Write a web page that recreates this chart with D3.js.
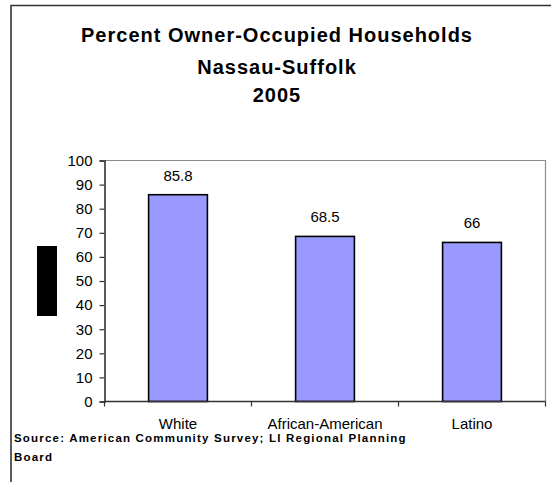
<!DOCTYPE html>
<html>
<head>
<meta charset="utf-8">
<script src="https://cdn.jsdelivr.net/npm/d3@7/dist/d3.min.js"></script>
<style>
  html, body { margin: 0; padding: 0; background: #fff; }
  svg { display: block; font-family: Arial, "Liberation Sans", sans-serif; }
</style>
</head>
<body>
<svg id="chart" width="551" height="482"></svg>
<script>
// Owner-occupied share by group, Nassau-Suffolk, 2005
const categories = ["White", "African-American", "Latino"];
const values = [85.8, 68.5, 66];
const yTicks = [0, 10, 20, 30, 40, 50, 60, 70, 80, 90, 100];
const titleLines = ["Percent Owner-Occupied Households", "Nassau-Suffolk", "2005"];
const sourceLines = ["Source: American Community Survey; LI Regional Planning", "Board"];

const svg = d3.select("#chart");
const W = 551, H = 482;

// outer chart frame (runs off the right and bottom edges)
svg.append("path")
  .attr("d", `M11,${H + 2} L11,5.5 L${W + 2},5.5`)
  .attr("fill", "none")
  .attr("stroke", "#333")
  .attr("stroke-width", 1.6);

// title
const title = svg.append("text")
  .attr("text-anchor", "middle")
  .attr("font-weight", "bold")
  .attr("font-size", 20)
  .attr("letter-spacing", 1)
  .attr("fill", "#000");
titleLines.forEach((t, i) => {
  title.append("tspan")
    .attr("x", 277)
    .attr("y", [42, 74, 102][i])
    .text(t);
});

// plot area
const plot = { left: 104.5, right: 545.5, top: 160.5, bottom: 401.5 };

const x = d3.scaleBand()
  .domain(categories)
  .range([plot.left, plot.right])
  .padding(0);

const y = d3.scaleLinear()
  .domain([0, 100])
  .range([plot.bottom, plot.top]);

// gray plot-area border on top and right
svg.append("path")
  .attr("d", `M${plot.left},${plot.top} L${plot.right},${plot.top} L${plot.right},${plot.bottom}`)
  .attr("fill", "none")
  .attr("stroke", "#8c8c8c")
  .attr("stroke-width", 1.2);

// bars
const barW = x.step() * 0.4;
svg.append("g")
  .selectAll("rect")
  .data(values)
  .join("rect")
  .attr("x", (d, i) => x(categories[i]) + (x.bandwidth() - barW) / 2)
  .attr("y", d => y(d))
  .attr("width", barW)
  .attr("height", d => y(0) - y(d))
  .attr("fill", "#9999FF")
  .attr("stroke", "#000")
  .attr("stroke-width", 1.6);

// value labels
svg.append("g")
  .selectAll("text")
  .data(values)
  .join("text")
  .attr("x", (d, i) => x(categories[i]) + x.bandwidth() / 2)
  .attr("y", d => y(d) - 14)
  .attr("text-anchor", "middle")
  .attr("font-size", 15)
  .attr("fill", "#000")
  .text(d => String(d));

// y axis
const yAxis = d3.axisLeft(y)
  .tickValues(yTicks)
  .tickSize(5)
  .tickPadding(7)
  .tickFormat(d3.format("d"));
const gy = svg.append("g")
  .attr("transform", `translate(${plot.left},0)`)
  .call(yAxis);
gy.select(".domain").attr("stroke", "#333").attr("stroke-width", 1.6);
gy.selectAll(".tick line").attr("stroke", "#333").attr("stroke-width", 1.2);
gy.selectAll(".tick text")
  .attr("font-size", 15)
  .attr("font-family", "Arial, 'Liberation Sans', sans-serif")
  .attr("fill", "#000");

// x axis: ticks sit on the category boundaries
const boundaries = categories.map(c => x(c)).concat([plot.right]);
const gx = svg.append("g");
gx.append("line")
  .attr("x1", plot.left).attr("x2", plot.right)
  .attr("y1", plot.bottom).attr("y2", plot.bottom)
  .attr("stroke", "#333").attr("stroke-width", 1.6);
gx.selectAll("line.tick")
  .data(boundaries)
  .join("line")
  .attr("class", "tick")
  .attr("x1", d => d).attr("x2", d => d)
  .attr("y1", plot.bottom).attr("y2", plot.bottom + 5)
  .attr("stroke", "#333").attr("stroke-width", 1.2);
gx.selectAll("text")
  .data(categories)
  .join("text")
  .attr("x", d => x(d) + x.bandwidth() / 2)
  .attr("y", 429)
  .attr("text-anchor", "middle")
  .attr("font-size", 15)
  .attr("fill", "#000")
  .text(d => d);

// axis title block
svg.append("rect")
  .attr("x", 37).attr("y", 246)
  .attr("width", 20).attr("height", 70)
  .attr("fill", "#000");

// source note
const src = svg.append("text")
  .attr("font-weight", "bold")
  .attr("font-size", 11.5)
  .attr("letter-spacing", 1.2)
  .attr("fill", "#000");
sourceLines.forEach((t, i) => {
  src.append("tspan")
    .attr("x", 14)
    .attr("y", [442, 461][i])
    .text(t);
});
</script>
</body>
</html>
